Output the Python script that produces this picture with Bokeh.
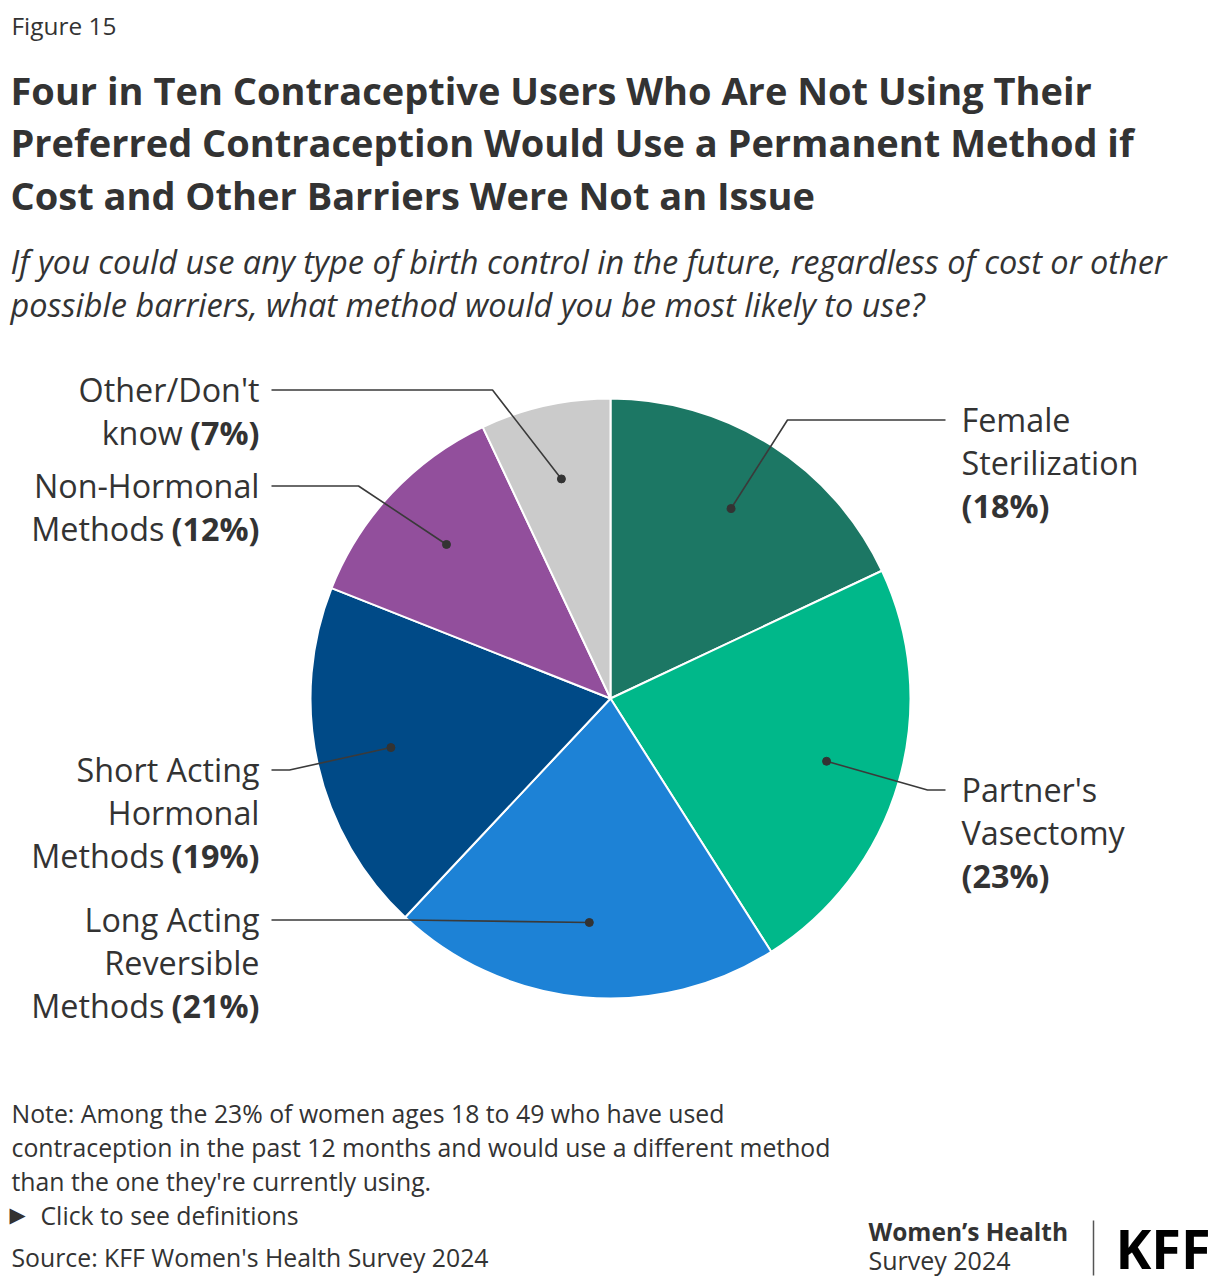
import math
from bokeh.plotting import figure
from bokeh.models import Range1d
from bokeh.core.properties import value
from bokeh.embed import file_html
from bokeh.resources import INLINE

# ---------------- data ----------------
categories = ["Female Sterilization", "Partner's Vasectomy", "Long Acting Reversible Methods",
              "Short Acting Hormonal Methods", "Non-Hormonal Methods", "Other/Don't know"]
shares = [18, 23, 21, 19, 12, 7]
colors = ["#1c7764", "#00b88a", "#1d82d6", "#004a87", "#924f9c", "#cbcbcb"]
label_lines = [["Female", "Sterilization"], ["Partner's", "Vasectomy"],
               ["Long Acting", "Reversible", "Methods"], ["Short Acting", "Hormonal", "Methods"],
               ["Non-Hormonal", "Methods"], ["Other/Don't", "know"]]

title_lines = ["Four in Ten Contraceptive Users Who Are Not Using Their",
               "Preferred Contraception Would Use a Permanent Method if",
               "Cost and Other Barriers Were Not an Issue"]
subtitle_lines = ["If you could use any type of birth control in the future, regardless of cost or other",
                  "possible barriers, what method would you be most likely to use?"]
note_lines = ["Note: Among the 23% of women ages 18 to 49 who have used",
              "contraception in the past 12 months and would use a different method",
              "than the one they're currently using."]

# ---------------- layout ----------------
W, H = 1220, 1288
FONT = "Open Sans"
TXT = "#333333"
SHIFT = 0.41   # renderer places text ~0.41em below the requested alphabetic baseline

def Y(py):
    return H - py

p = figure(width=W, height=H, x_range=Range1d(0, W), y_range=Range1d(0, H),
           output_backend="svg", toolbar_location=None, min_border=0,
           x_axis_location=None, y_axis_location=None)
p.grid.visible = False
p.outline_line_color = None
p.background_fill_color = "white"
p.border_fill_color = "white"

def txt(x, y, s, size, style="normal", align="left", color=TXT, font=FONT):
    p.text(x=[x], y=[Y(y - SHIFT * size)], text=[s], text_font=value(font),
           text_font_size=value(f"{size}px"), text_font_style=style, text_align=align,
           text_baseline="alphabetic", text_color=color)

# header
txt(11, 35, "Figure 15", 24.4)
for i, s in enumerate(title_lines):
    txt(10, 105 + 52.5 * i, s, 38, style="bold")
for i, s in enumerate(subtitle_lines):
    txt(10, 274 + 43.5 * i, s, 32.5, style="italic")

# pie
cx, cy, r = 610, Y(698), 300
total = float(sum(shares))
starts, ends, mids = [], [], []
cum = 0.0
for v in shares:
    a0 = math.pi / 2 - 2 * math.pi * cum / total
    cum += v
    a1 = math.pi / 2 - 2 * math.pi * cum / total
    starts.append(a0)
    ends.append(a1)
    mids.append((a0 + a1) / 2)

p.wedge(x=[cx] * len(shares), y=[cy] * len(shares), radius=r, start_angle=starts, end_angle=ends,
        direction="clock", fill_color=colors, line_color="white", line_width=2)

# labels / leader lines (layout)
first_base = [432, 802, 932, 782, 498, 402]      # page y of first label line baseline
elbow_x = [787, 927, 407, 289, 358, 492]
side = [1, 1, -1, -1, -1, -1]
LINE_H = 43
LSIZE = 32.3

dots_x, dots_y, xs, ys = [], [], [], []
for i in range(len(shares)):
    dx = cx + 0.75 * r * math.cos(mids[i])
    dy = cy + 0.75 * r * math.sin(mids[i])
    dots_x.append(dx)
    dots_y.append(dy)
    ly = Y(first_base[i] - 12.5)
    edge = 945 if side[i] > 0 else 271
    xs.append([dx, elbow_x[i], edge])
    ys.append([dy, ly, ly])

p.multi_line(xs=xs, ys=ys, line_color="#3a3a3a", line_width=1.6)
p.scatter(x=dots_x, y=dots_y, size=8, color="#333333")

# approximate advance widths (em) of bold glyphs used in the percentages
BOLD_EM = {"(": 0.33, ")": 0.33, "%": 0.88}
def bold_width(s, size):
    return sum(BOLD_EM.get(c, 0.572) for c in s) * size

for i in range(len(shares)):
    lines = label_lines[i]
    pct = f"({shares[i]}%)"
    base0 = first_base[i]
    if side[i] > 0:
        for k, s in enumerate(lines):
            txt(961, base0 + LINE_H * k, s, LSIZE)
        txt(961, base0 + LINE_H * len(lines), pct, LSIZE, style="bold")
    else:
        for k, s in enumerate(lines[:-1]):
            txt(259, base0 + LINE_H * k, s, LSIZE, align="right")
        yb = base0 + LINE_H * (len(lines) - 1)
        txt(259, yb, pct, LSIZE, style="bold", align="right")
        txt(259 - bold_width(pct, LSIZE) - 0.26 * LSIZE, yb, lines[-1], LSIZE, align="right")

# notes
NSIZE = 24.8
for i, s in enumerate(note_lines):
    txt(11, 1123 + 34 * i, s, NSIZE)
txt(9, 1223, "\u25B6", 21, font="DejaVu Sans")
txt(40, 1225, "Click to see definitions", NSIZE)
txt(11, 1267, "Source: KFF Women's Health Survey 2024", NSIZE)

# footer branding
txt(868, 1241, "Women\u2019s Health", 24.5, style="bold")
txt(868, 1270, "Survey 2024", 25)
p.segment(x0=[1093], y0=[Y(1220)], x1=[1093], y1=[Y(1275)], line_color="#555555", line_width=1.5)
txt(1115, 1270, "KFF", 54, style="bold", color="#000000")

open("out.html", "w").write(file_html(p, INLINE))
